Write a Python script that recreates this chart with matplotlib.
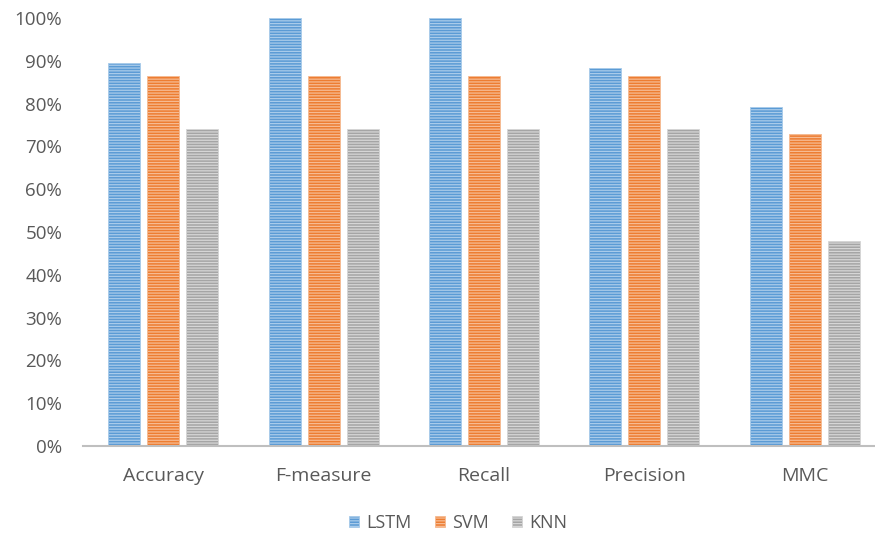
import numpy as np
import matplotlib.pyplot as plt

categories = ["Accuracy", "F-measure", "Recall", "Precision", "MMC"]
lstm = [89.5, 100, 100, 88.3, 79.2]
svm = [86.4, 86.4, 86.4, 86.4, 73.0]
knn = [74.0, 74.0, 74.0, 74.0, 48.0]

series = [
    ("LSTM", lstm, "#5B9BD5", "#A9CBEA"),
    ("SVM", svm, "#ED7D31", "#F6BB93"),
    ("KNN", knn, "#A5A5A5", "#D6D6D6"),
]

plt.rcParams["font.family"] = ["Open Sans", "DejaVu Sans"]
plt.rcParams["hatch.linewidth"] = 0.9

fig = plt.figure(figsize=(8.75, 5.41), dpi=100)
ax = fig.add_axes([83 / 875, 95 / 541, 802 / 875, 428 / 541])

x = np.arange(len(categories))
w = 0.2
step = 0.243
for i, (name, vals, fc, lc) in enumerate(series):
    ax.bar(x + (i - 1) * step, vals, width=w, color=fc, edgecolor=lc,
           hatch="------", linewidth=0.6, label=name)

ax.set_xlim(-0.5, len(categories) - 0.5)
ax.set_ylim(0, 100)
ax.set_yticks(np.arange(0, 101, 10))
ax.set_yticklabels([f"{v}%" for v in range(0, 101, 10)])
ax.set_xticks(x)
ax.set_xticklabels(categories)

for s in ["top", "right", "left"]:
    ax.spines[s].set_visible(False)
ax.spines["bottom"].set_color("#BFBFBF")
ax.spines["bottom"].set_linewidth(1.5)
ax.tick_params(axis="y", length=0, pad=15, labelsize=13.5, labelcolor="#595959")
ax.tick_params(axis="x", length=0, pad=15, labelsize=14, labelcolor="#595959")

leg = fig.legend(loc="center", bbox_to_anchor=(458 / 875, 1 - 523 / 541), ncol=3,
                 frameon=False, fontsize=13, handlelength=0.55, handleheight=0.55,
                 handletextpad=0.4, columnspacing=1.3)
for t in leg.get_texts():
    t.set_color("#595959")

fig.savefig("out.png", dpi=100)
